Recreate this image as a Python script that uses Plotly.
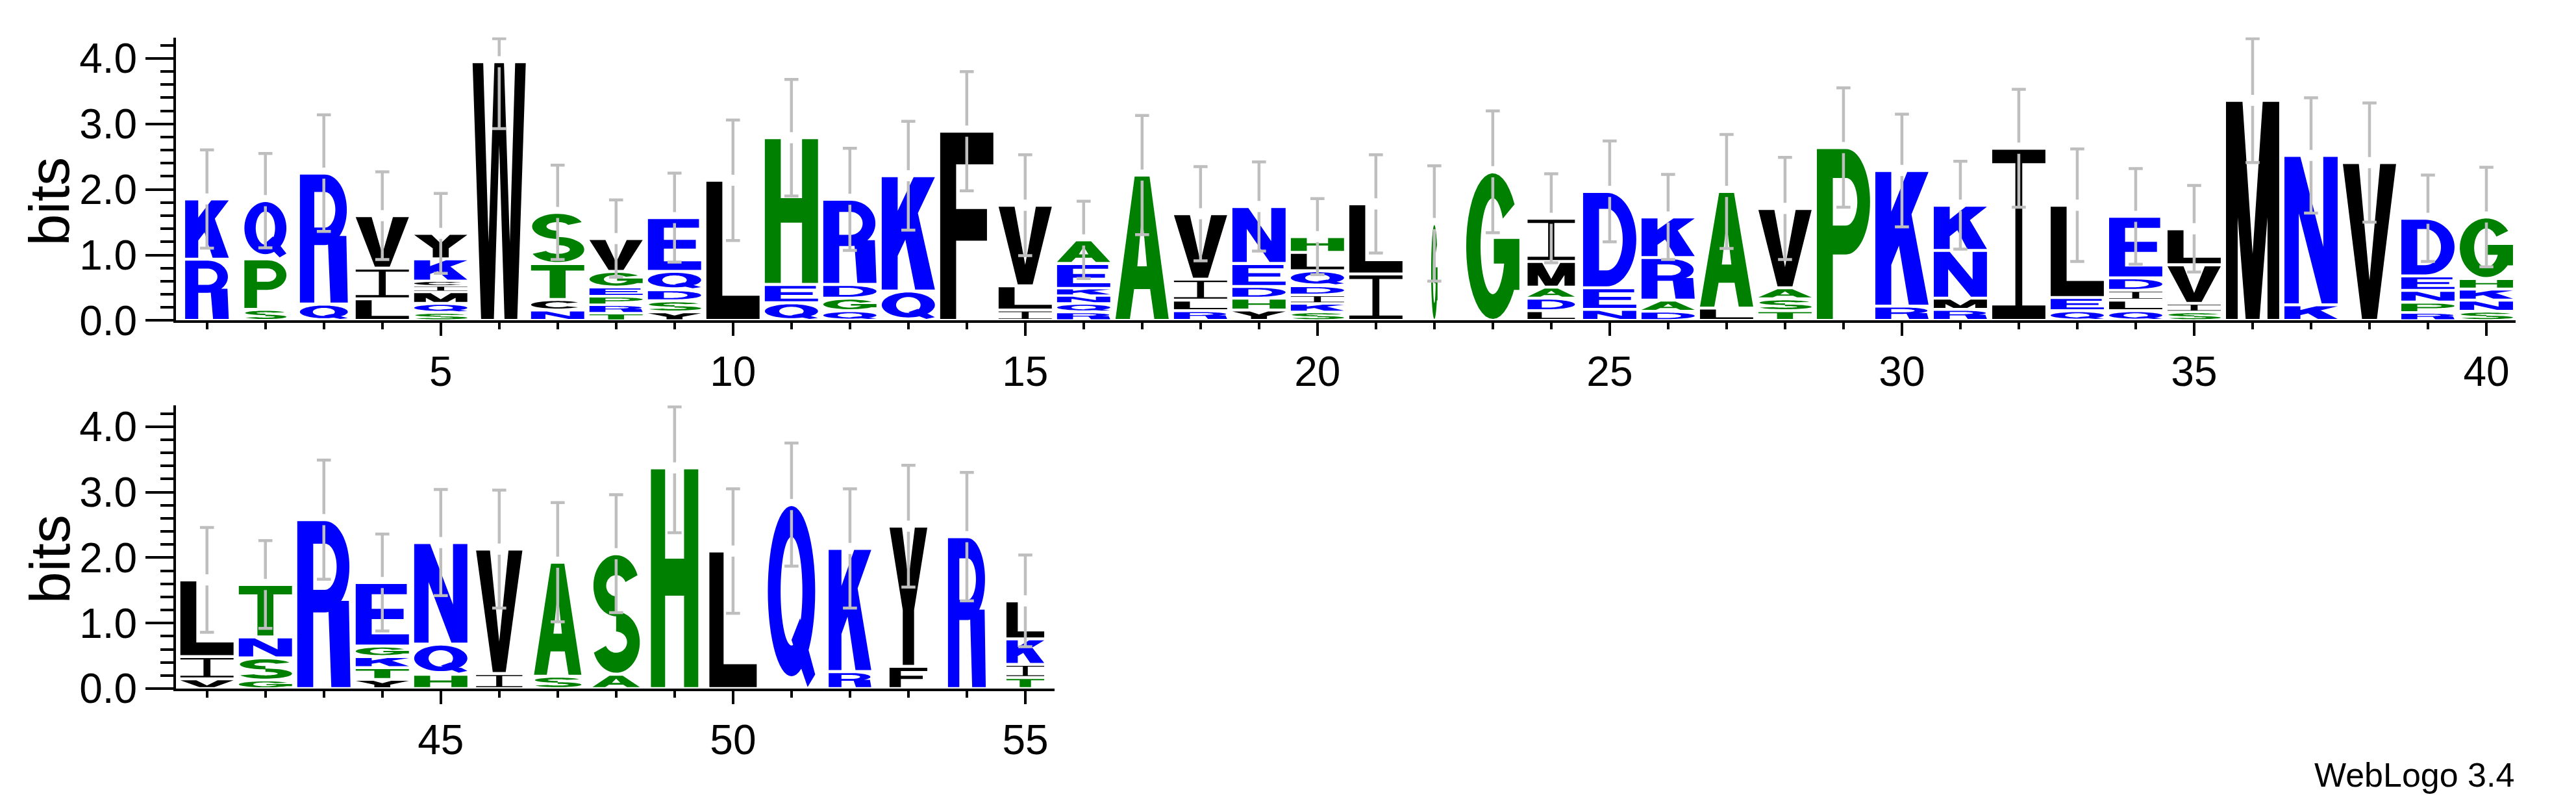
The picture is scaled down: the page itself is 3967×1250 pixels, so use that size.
import math
import plotly.graph_objects as go

# ---------------- data ----------------
positions = list(range(1, 56))
# letters of each stack, from bottom to top
stack_letters = [
    "RK", "SPQ", "QR", "LIV", "SQMICKY", "W", "NCTS", "TRPEGV", "YSDQE", "L",
    "QEH", "QGDR", "QK", "F", "ILV", "RQNKEA", "A", "RLIV", "YHDEN", "SKIDQLH",
    "IL", "G", "G", "LDAMI", "NED", "DARK", "LA", "TSAV", "P", "RK",
    "RMNK", "I", "QEL", "QLIDE", "SIVL", "M", "KN", "V", "RPNED", "SNKHG",
    "VIL", "GSNT", "R", "YTKGE", "HQN", "IV", "SA", "AS", "H", "L",
    "Q", "RK", "FY", "R", "TIKL",
]
# information (bits) of each letter, same order
stack_bits = [
    [0.935, 0.92], [0.17, 0.77, 0.89], [0.25, 2.00], [0.33, 0.47, 0.80],
    [0.12, 0.14, 0.18, 0.09, 0.07, 0.34, 0.39], [3.95], [0.16, 0.16, 0.55, 0.78],
    [0.11, 0.13, 0.13, 0.14, 0.24, 0.50], [0.13, 0.17, 0.17, 0.28, 0.82], [2.14],
    [0.27, 0.28, 2.24], [0.15, 0.19, 0.21, 1.30], [0.45, 1.76], [2.89],
    [0.16, 0.37, 1.23], [0.13, 0.13, 0.12, 0.11, 0.38, 0.36], [2.22],
    [0.15, 0.16, 0.32, 1.00], [0.16, 0.18, 0.18, 0.35, 0.87],
    [0.13, 0.13, 0.13, 0.14, 0.23, 0.28, 0.24], [0.71, 1.07], [1.48], [2.27],
    [0.15, 0.19, 0.17, 0.39, 0.66], [0.17, 0.33, 1.47], [0.14, 0.17, 0.65, 0.62],
    [0.19, 1.78], [0.15, 0.18, 0.17, 1.21], [2.64], [0.22, 2.07],
    [0.17, 0.17, 0.73, 0.69], [2.63], [0.15, 0.20, 1.41],
    [0.15, 0.16, 0.15, 0.19, 0.94], [0.13, 0.13, 0.59, 0.55], [3.36], [0.24, 2.28],
    [2.41], [0.12, 0.16, 0.18, 0.22, 0.88], [0.14, 0.17, 0.17, 0.16, 0.94],
    [0.15, 0.34, 1.17], [0.13, 0.34, 0.32, 0.80], [2.58],
    [0.14, 0.18, 0.17, 0.16, 0.97], [0.22, 0.46, 1.55], [0.23, 1.90], [0.19, 1.74],
    [0.22, 1.84], [3.37], [2.10], [2.81], [0.26, 1.88], [0.34, 2.14], [2.32],
    [0.17, 0.20, 0.39, 0.58],
]
# error bar half-length (bits)
error_bits = [
    0.75, 0.72, 0.89, 0.67, 0.61, 1.02, 0.72, 0.59, 0.68, 0.92,
    0.89, 0.78, 0.83, 0.91, 0.77, 0.59, 0.91, 0.72, 0.68, 0.58,
    0.75, 0.88, 0.93, 0.68, 0.77, 0.65, 0.87, 0.78, 0.91, 0.86,
    0.67, 0.90, 0.86, 0.73, 0.66, 0.95, 0.88, 0.91, 0.66, 0.76,
    0.80, 0.67, 0.91, 0.74, 0.81, 0.90, 0.91, 0.90, 0.99, 0.95,
    0.94, 0.91, 0.93, 0.98, 0.70,
]
# fraction of non-gap symbols (stack width)
stack_width = [
    0.82, 0.79, 0.90, 1, 1, 1, 1, 1, 1, 1,
    1, 1, 1, 1, 1, 1, 1, 1, 1, 1,
    1, 0.12, 1, 0.89, 1, 1, 1, 1, 1, 1,
    1, 1, 1, 1, 1, 1, 1, 1, 1, 1,
    1, 1, 1, 1, 1, 0.87, 0.89, 0.89, 0.89, 0.89,
    0.89, 0.80, 0.71, 0.71, 0.71,
]
y_max_bits = math.log2(20)
x_tick_step = 5
y_tick_labels = ["0.0", "1.0", "2.0", "3.0", "4.0"]

# ---------------- styles ----------------
BLUE, GREEN, BLACK = "#0000FF", "#008000", "#000000"
COLOR = {}
for c in "KRQEDN":
    COLOR[c] = BLUE
for c in "SPTGAH":
    COLOR[c] = GREEN
for c in "VILWCMFY":
    COLOR[c] = BLACK
ERR_COLOR = "#BEBEBE"
FONT = "Liberation Sans, Arial, Helvetica, sans-serif"

# ---------------- glyph outlines (unit box) ----------------
T = 0.30   # vertical stem width
B = 0.17   # horizontal bar thickness


def rect(x0, y0, x1, y1):
    return [(x0, y0), (x1, y0), (x1, y1), (x0, y1)]


def ell(cx, cy, rx, ry, a0, a1, n=36):
    pts = []
    for k in range(n + 1):
        a = math.radians(a0 + (a1 - a0) * k / n)
        pts.append((cx + rx * math.cos(a), cy + ry * math.sin(a)))
    return pts


def band(cx, cy, rx, ry, tx, ty, a0, a1, n=40):
    return ell(cx, cy, rx, ry, a0, a1, n) + ell(cx, cy, rx - tx, ry - ty, a1, a0, n)


def g_A():
    return [([(0, 0), (0.27, 0), (0.35, 0.21), (0.65, 0.21), (0.73, 0), (1, 0), (0.64, 1), (0.36, 1)], False),
            ([(0.41, 0.37), (0.59, 0.37), (0.5, 0.74)], True)]


def g_C():
    return [(band(0.5, 0.5, 0.5, 0.5, T * 0.9, B, 40, 320), False)]


def g_D():
    outer = [(0, 0), (0.45, 0)] + ell(0.45, 0.5, 0.55, 0.5, -90, 90) + [(0, 1)]
    hole = [(T, B), (0.45, B)] + ell(0.45, 0.5, 0.55 - T * 0.85, 0.5 - B, -90, 90) + [(T, 1 - B)]
    return [(outer, False), (hole, True)]


def g_E():
    return [(rect(0, 0, T, 1), False), (rect(0, 0, 1, B), False),
            (rect(0, 1 - B, 0.96, 1), False), (rect(0, 0.42, 0.9, 0.42 + B), False)]


def g_F():
    return [(rect(0, 0, T, 1), False), (rect(0, 1 - B, 1, 1), False),
            (rect(0, 0.42, 0.88, 0.42 + B), False)]


def g_G():
    return [(band(0.5, 0.5, 0.5, 0.5, T * 0.9, B, 35, 360), False),
            (rect(0.52, 0.55 - B, 1.0, 0.55), False),
            (rect(1 - T * 0.9, 0.2, 1.0, 0.55), False)]


def g_H():
    return [(rect(0, 0, T, 1), False), (rect(1 - T, 0, 1, 1), False),
            (rect(0, 0.42, 1, 0.42 + B), False)]


def g_I():
    b = 0.08
    return [(rect(0, 0, 1, b), False), (rect(0, 1 - b, 1, 1), False),
            (rect(0.435, 0, 0.565, 1), False)]


def g_K():
    return [(rect(0, 0, T, 1), False),
            ([(T - 0.02, 0.28), (0.62, 0.62), (1.0, 1.0), (0.6, 1.0), (T - 0.02, 0.68)], False),
            ([(0.4, 0.55), (0.63, 0.0), (1.0, 0.0), (0.68, 0.68)], False)]


def g_L():
    return [(rect(0, 0, T, 1), False), (rect(0, 0, 1, B), False)]


def g_M():
    return [(rect(0, 0, 0.22, 1), False), (rect(0.78, 0, 1, 1), False),
            ([(0.05, 1), (0.31, 1), (0.5, 0.3), (0.69, 1), (0.95, 1), (0.63, 0), (0.37, 0)], False)]


def g_N():
    return [(rect(0, 0, 0.27, 1), False), (rect(0.73, 0, 1, 1), False),
            ([(0, 1), (0.3, 1), (1, 0), (0.7, 0)], False)]


def g_P():
    outer = [(0, 0), (T, 0), (T, 0.38), (0.55, 0.38)] + ell(0.55, 0.69, 0.45, 0.31, -90, 90) + [(0, 1)]
    hole = [(T, 0.38 + B)] + ell(0.55, 0.69, 0.45 - T * 0.8, 0.31 - B, -90, 90) + [(T, 1 - B)]
    return [(outer, False), (hole, True)]


def g_Q():
    return [(ell(0.5, 0.53, 0.5, 0.47, 0, 360, 60), False),
            (ell(0.5, 0.53, 0.5 - T * 0.9, 0.47 - B, 0, 360, 60), True),
            ([(0.5, 0.26), (0.84, 0.0), (1.0, 0.07), (0.68, 0.38)], False)]


def g_R():
    outer = [(0, 0), (T, 0), (T, 0.45), (0.52, 0.45)] + ell(0.52, 0.725, 0.46, 0.275, -90, 90) + [(0, 1)]
    hole = [(T, 0.45 + B * 0.8)] + ell(0.52, 0.725, 0.46 - T * 0.8, 0.275 - B * 0.8, -90, 90) + [(T, 1 - B * 0.8)]
    leg = [(0.58, 0.52), (0.64, 0.0), (1.0, 0.0), (0.97, 0.52)]
    return [(outer, False), (hole, True), (leg, False)]


def g_S():
    up = band(0.5, 0.74, 0.48, 0.26, T * 0.9, B, 20, 270)
    lo = band(0.5, 0.26, 0.5, 0.26, T * 0.9, B, -160, 90)
    return [(up, False), (lo, False)]


def g_T():
    return [(rect(0, 1 - B, 1, 1), False), (rect(0.5 - T / 2, 0, 0.5 + T / 2, 1), False)]


def g_V():
    return [([(0, 1), (0.3, 1), (0.5, 0.25), (0.7, 1), (1, 1), (0.64, 0), (0.36, 0)], False)]


def g_W():
    return [([(0, 1), (0.2, 1), (0.3, 0.3), (0.41, 1), (0.59, 1), (0.7, 0.3), (0.8, 1), (1, 1),
              (0.84, 0), (0.6, 0), (0.5, 0.68), (0.4, 0), (0.16, 0)], False)]


def g_Y():
    return [([(0, 1), (0.33, 1), (0.5, 0.62), (0.67, 1), (1, 1), (0.65, 0.4), (0.65, 0),
              (0.35, 0), (0.35, 0.4)], False)]


GLYPH = {"A": g_A(), "C": g_C(), "D": g_D(), "E": g_E(), "F": g_F(), "G": g_G(),
         "H": g_H(), "I": g_I(), "K": g_K(), "L": g_L(), "M": g_M(), "N": g_N(),
         "P": g_P(), "Q": g_Q(), "R": g_R(), "S": g_S(), "T": g_T(), "V": g_V(),
         "W": g_W(), "Y": g_Y()}


def signed_area(p):
    s = 0.0
    for i in range(len(p)):
        x0, y0 = p[i]
        x1, y1 = p[(i + 1) % len(p)]
        s += x0 * y1 - x1 * y0
    return s / 2


def glyph_path(letter, xc, w, y0, h):
    parts = []
    for poly, hole in GLYPH[letter]:
        a = signed_area(poly)
        if (a > 0) == hole:      # outer CCW, holes CW
            poly = poly[::-1]
        pts = [(xc + (u - 0.5) * w, y0 + v * h) for u, v in poly]
        s = "M" + " L".join(f"{x:.4f},{y:.4f}" for x, y in pts) + " Z"
        parts.append(s)
    return " ".join(parts)


# ---------------- figure ----------------
W_PX, H_PX = 3967, 1250
PX_PER_BIT = 104.0
rows = [
    dict(first=1, last=40, left=263, right=3866, base=498.5, label_y=310, xa="x", ya="y"),
    dict(first=41, last=55, left=263, right=1616, base=1083.0, label_y=878, xa="x2", ya="y2"),
]

fig = go.Figure()
shapes = []
GLYPH_W = 0.91
GAP = 0.045
ERR_GAP = 0.085
CAP = 0.12

for row in rows:
    ex, ey = [], []
    for i, pos in enumerate(positions):
        if not (row["first"] <= pos <= row["last"]):
            continue
        letters = stack_letters[i]
        bits = stack_bits[i]
        gw = GLYPH_W * stack_width[i]
        y = 0.0
        for ch, hb in zip(letters, bits):
            g = min(GAP, 0.3 * hb)
            shapes.append(dict(type="path", path=glyph_path(ch, pos, gw, y + g / 2, hb - g),
                               xref=row["xa"], yref=row["ya"], fillcolor=COLOR[ch],
                               line=dict(width=0), layer="below", fillrule="nonzero"))
            y += hb
        top = y
        lo = top - error_bits[i]
        hi = min(top + error_bits[i], y_max_bits - 0.02)
        ex += [pos, pos, None, pos, pos, None]
        ey += [lo, top - ERR_GAP, None, top + ERR_GAP, hi, None]
        ex += [pos - CAP, pos + CAP, None, pos - CAP, pos + CAP, None]
        ey += [lo, lo, None, hi, hi, None]
    fig.add_trace(go.Scatter(x=ex, y=ey, mode="lines", xaxis=row["xa"], yaxis=row["ya"],
                             line=dict(color=ERR_COLOR, width=4.5), hoverinfo="skip",
                             showlegend=False))

axis_common = dict(showline=True, linecolor="black", linewidth=4, ticks="outside",
                   tickcolor="black", tickwidth=4, showgrid=False, zeroline=False,
                   tickfont=dict(family=FONT, size=64, color="black"))

layout_axes = {}
for k, row in enumerate(rows):
    suffix = "" if k == 0 else "2"
    xdom = [row["left"] / W_PX, row["right"] / W_PX]
    ydom = [(H_PX - row["base"]) / H_PX, (H_PX - (row["base"] - y_max_bits * PX_PER_BIT)) / H_PX]
    layout_axes["xaxis" + suffix] = dict(
        axis_common, domain=xdom, anchor="y" + suffix,
        range=[row["first"] - 0.53, row["last"] + 0.5],
        tickmode="linear", tick0=0, dtick=x_tick_step, ticklen=20,
        minor=dict(dtick=1, tick0=0, ticklen=10, tickwidth=4, tickcolor="black", ticks="outside"))
    layout_axes["yaxis" + suffix] = dict(
        axis_common, domain=ydom, anchor="x" + suffix, range=[0, y_max_bits],
        tickmode="array", tickvals=[0, 1, 2, 3, 4], ticktext=y_tick_labels, ticklen=43,
        minor=dict(dtick=0.2, tick0=0, ticklen=20, tickwidth=4, tickcolor="black", ticks="outside"))

annotations = []
for row in rows:
    annotations.append(dict(text="bits", xref="paper", yref="paper", x=68 / W_PX,
                            y=(H_PX - row["label_y"]) / H_PX, showarrow=False, textangle=-90,
                            xanchor="center", yanchor="middle",
                            font=dict(family=FONT, size=88, color="black")))
annotations.append(dict(text="WebLogo 3.4", xref="paper", yref="paper", x=3866 / W_PX,
                        y=(H_PX - 1220) / H_PX, showarrow=False, xanchor="right",
                        yanchor="middle", font=dict(family=FONT, size=52, color="black")))

fig.update_layout(width=W_PX, height=H_PX, margin=dict(l=0, r=0, t=0, b=0),
                  paper_bgcolor="white", plot_bgcolor="white", shapes=shapes,
                  annotations=annotations, showlegend=False, **layout_axes)

fig.write_html("out.html")
